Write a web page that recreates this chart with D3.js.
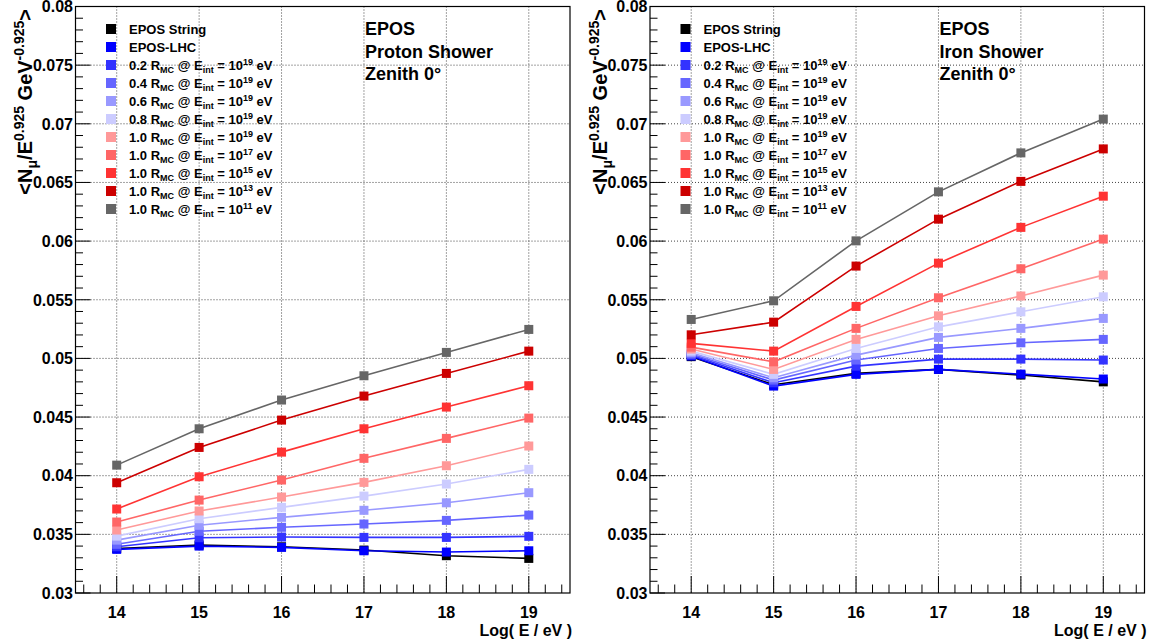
<!DOCTYPE html>
<meta charset="utf-8">
<style>
body { margin: 0; background: #fff; }
svg { font-family: "Liberation Sans", Arial, sans-serif; font-weight: bold; }
.grid line { stroke: #444; stroke-width: 1px; stroke-dasharray: 1,2; }
.series path { fill: none; stroke-width: 1.6px; }
</style>
<svg width="1154" height="644"></svg>
<script src="https://d3js.org/d3.v7.min.js"></script>
<script>

var energies = [14, 15, 16, 17, 18, 19];
var xTicks = [14, 15, 16, 17, 18, 19];
var yTicks = [0.03, 0.035, 0.04, 0.045, 0.05, 0.055, 0.06, 0.065, 0.07, 0.075, 0.08];
var yTickLabels = ["0.03", "0.035", "0.04", "0.045", "0.05", "0.055", "0.06", "0.065", "0.07", "0.075", "0.08"];

var seriesColors = ["#000000", "#0000ff", "#3333ff", "#6666ff", "#9999ff", "#ccccff",
                    "#ff9999", "#ff6666", "#ff3333", "#cc0000", "#666666"];
// legend: plain names for the first two, "R @ E_int = 10^exp" for the rest
var legendNames = ["EPOS String", "EPOS-LHC", null, null, null, null, null, null, null, null, null];
var legendFraction = [null, null, "0.2", "0.4", "0.6", "0.8", "1.0", "1.0", "1.0", "1.0", "1.0"];
var legendExponent = [null, null, "19", "19", "19", "19", "19", "17", "15", "13", "11"];

var protonValues = [
  [0.0338, 0.03409, 0.03394, 0.03366, 0.03318, 0.03295],
  [0.03372, 0.0340, 0.03389, 0.0336, 0.03349, 0.0336],
  [0.03394, 0.03471, 0.03477, 0.03474, 0.03474, 0.03483],
  [0.03415, 0.03526, 0.0356, 0.03588, 0.03619, 0.03664],
  [0.03451, 0.03577, 0.03645, 0.03705, 0.03769, 0.03855],
  [0.03485, 0.03633, 0.0373, 0.03826, 0.03929, 0.04054],
  [0.03537, 0.03699, 0.03818, 0.03943, 0.04085, 0.04253],
  [0.03605, 0.03792, 0.03963, 0.04148, 0.04318, 0.04491],
  [0.03716, 0.03991, 0.04201, 0.0440, 0.04585, 0.04767],
  [0.0394, 0.04241, 0.04474, 0.04679, 0.04872, 0.05062],
  [0.0409, 0.0440, 0.04645, 0.04852, 0.05051, 0.05247]
];

var ironValues = [
  [0.05015, 0.04775, 0.04872, 0.04906, 0.04858, 0.0480],
  [0.0502, 0.04764, 0.04864, 0.04906, 0.04866, 0.04824],
  [0.05028, 0.04792, 0.04934, 0.04994, 0.04994, 0.04986],
  [0.05037, 0.04815, 0.04986, 0.05085, 0.05133, 0.05162],
  [0.05049, 0.04835, 0.05028, 0.05179, 0.05256, 0.05341],
  [0.05062, 0.04864, 0.05085, 0.05269, 0.05397, 0.05525],
  [0.0508, 0.04906, 0.05162, 0.05363, 0.05532, 0.0571],
  [0.05096, 0.04971, 0.05256, 0.05517, 0.05764, 0.06017],
  [0.05128, 0.05062, 0.05443, 0.05812, 0.06117, 0.06383],
  [0.05201, 0.05309, 0.05787, 0.06187, 0.06509, 0.06786],
  [0.05332, 0.05491, 0.06002, 0.0642, 0.06752, 0.0704]
];

var svg = d3.select("svg");

function drawPanel(ox, values, titleLines) {
  var g = svg.append("g").attr("transform", "translate(" + ox + ",0)");

  var x = d3.scaleLinear().domain([13.5, 19.5]).range([75.5, 570]);
  var y = d3.scaleLinear().domain([0.03, 0.08]).range([593, 6.5]);

  // grid
  var grid = g.append("g").attr("class", "grid");
  grid.selectAll(".gx").data(xTicks).enter().append("line")
      .attr("x1", function(d) { return x(d); }).attr("x2", function(d) { return x(d); })
      .attr("y1", y(0.08)).attr("y2", y(0.03));
  grid.selectAll(".gy").data(yTicks.slice(1, -1)).enter().append("line")
      .attr("x1", x(13.5)).attr("x2", x(19.5))
      .attr("y1", function(d) { return y(d); }).attr("y2", function(d) { return y(d); });

  // frame
  g.append("rect")
      .attr("x", x(13.5)).attr("y", y(0.08))
      .attr("width", x(19.5) - x(13.5)).attr("height", y(0.03) - y(0.08))
      .attr("fill", "none").attr("stroke", "#000").attr("stroke-width", 1.2);

  // x ticks (major + minor)
  var xMinor = d3.range(13.6, 19.5, 0.2).filter(function(d) { return Math.abs(d - Math.round(d)) > 0.01; });
  g.selectAll(".xmin").data(xMinor).enter().append("line")
      .attr("x1", function(d) { return x(d); }).attr("x2", function(d) { return x(d); })
      .attr("y1", y(0.03)).attr("y2", y(0.03) - 8.5).attr("stroke", "#000");
  g.selectAll(".xmaj").data(xTicks).enter().append("line")
      .attr("x1", function(d) { return x(d); }).attr("x2", function(d) { return x(d); })
      .attr("y1", y(0.03)).attr("y2", y(0.03) - 17).attr("stroke", "#000");
  g.selectAll(".xlab").data(xTicks).enter().append("text")
      .attr("x", function(d) { return x(d); }).attr("y", 617.5)
      .attr("text-anchor", "middle").attr("font-size", 16)
      .text(function(d) { return d; });
  g.append("text").attr("x", 572).attr("y", 636)
      .attr("text-anchor", "end").attr("font-size", 16).text("Log( E / eV )");

  // y ticks
  var yMinor = d3.range(0, 51).map(function(i) { return 0.03 + i * 0.001; })
      .filter(function(d, i) { return i % 5 !== 0; });
  g.selectAll(".ymin").data(yMinor).enter().append("line")
      .attr("x1", x(13.5)).attr("x2", x(13.5) + 7.5)
      .attr("y1", function(d) { return y(d); }).attr("y2", function(d) { return y(d); })
      .attr("stroke", "#000");
  g.selectAll(".ymaj").data(yTicks).enter().append("line")
      .attr("x1", x(13.5)).attr("x2", x(13.5) + 15)
      .attr("y1", function(d) { return y(d); }).attr("y2", function(d) { return y(d); })
      .attr("stroke", "#000");
  g.selectAll(".ylab").data(yTicks).enter().append("text")
      .attr("x", 73).attr("y", function(d) { return y(d); }).attr("dy", "0.36em")
      .attr("text-anchor", "end").attr("font-size", 16)
      .text(function(d, i) { return yTickLabels[i]; });

  // y title
  var yt = g.append("text").attr("transform", "translate(32,9) rotate(-90)")
      .attr("text-anchor", "end").attr("font-size", 20);
  yt.append("tspan").text("<N");
  yt.append("tspan").attr("font-size", 14).attr("dy", 5).text("\u03bc");
  yt.append("tspan").attr("dy", -5).text("/E");
  yt.append("tspan").attr("font-size", 14).attr("dy", -8).text("0.925");
  yt.append("tspan").attr("dy", 8).text(" GeV");
  yt.append("tspan").attr("font-size", 14).attr("dy", -8).text("-0.925");
  yt.append("tspan").attr("dy", 8).text(">");

  // series
  var line = d3.line()
      .x(function(d, i) { return x(energies[i]); })
      .y(function(d) { return y(d); });
  values.forEach(function(vals, k) {
    var s = g.append("g").attr("class", "series");
    s.append("path").datum(vals).attr("d", line).attr("stroke", seriesColors[k]);
    s.selectAll("rect").data(vals).enter().append("rect")
        .attr("x", function(d, i) { return x(energies[i]) - 4.5; })
        .attr("y", function(d) { return y(d) - 4.5; })
        .attr("width", 9).attr("height", 9)
        .attr("fill", seriesColors[k]);
  });

  // legend
  seriesColors.forEach(function(c, k) {
    var ly = 29 + k * 18;
    g.append("rect").attr("x", 106).attr("y", ly - 5).attr("width", 10).attr("height", 10).attr("fill", c);
    var t = g.append("text").attr("x", 129).attr("y", ly + 4.5).attr("font-size", 13);
    if (legendNames[k]) {
      t.text(legendNames[k]);
    } else {
      t.append("tspan").text(legendFraction[k] + " R");
      t.append("tspan").attr("font-size", 9).attr("dy", 3).text("MC");
      t.append("tspan").attr("dy", -3).text(" @ E");
      t.append("tspan").attr("font-size", 9).attr("dy", 3).text("int");
      t.append("tspan").attr("dy", -3).text(" = 10");
      t.append("tspan").attr("font-size", 9).attr("dy", -5).text(legendExponent[k]);
      t.append("tspan").attr("dy", 5).text(" eV");
    }
  });

  // title box
  titleLines.forEach(function(s, i) {
    g.append("text").attr("x", 365).attr("y", 35 + i * 22.5)
        .attr("font-size", 18).text(s);
  });
}

drawPanel(0, protonValues, ["EPOS", "Proton Shower", "Zenith 0\u00b0"]);
drawPanel(574.5, ironValues, ["EPOS", "Iron Shower", "Zenith 0\u00b0"]);

</script>
